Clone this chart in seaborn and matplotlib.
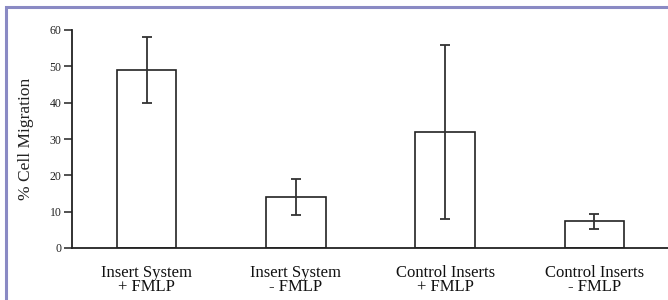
import matplotlib
matplotlib.use('Agg')
import matplotlib.pyplot as plt
import seaborn as sns
from matplotlib.patches import Rectangle

# Data
groups = ['Insert System\n+ FMLP', 'Insert System\n- FMLP',
          'Control Inserts\n+ FMLP', 'Control Inserts\n- FMLP']
migration = [49.0, 14.0, 32.0, 7.3]
migration_err = [9.0, 5.0, 24.0, 2.0]
y_ticks = [0, 10, 20, 30, 40, 50, 60]

sns.set_theme(style='white')
plt.rcParams['font.family'] = ['Liberation Serif', 'DejaVu Serif']

fig = plt.figure(figsize=(6.68, 3.0), dpi=100)
ax = fig.add_axes([72 / 668, 52 / 300, 600 / 668, 218 / 300])

sns.barplot(x=groups, y=migration, ax=ax, width=0.4, color='white',
            edgecolor='#222222', linewidth=1.2, errorbar=None)
ax.errorbar(range(len(groups)), migration, yerr=migration_err, fmt='none',
            ecolor='#333333', elinewidth=1.3, capsize=3.5, capthick=1.3, zorder=5)

ax.set_xlim(-0.5, 3.52)
ax.set_ylim(0, 60)
ax.set_yticks(y_ticks)
ax.set_yticklabels([str(t) for t in y_ticks], fontsize=8.5, color='#222222')
ax.tick_params(axis='y', direction='out', length=5.5, width=1.1, color='#222222', pad=2, left=True)
ax.tick_params(axis='x', length=0, labelsize=12, labelcolor='#111111', pad=12)
for lab in ax.get_xticklabels():
    lab.set_linespacing(0.85)

ax.set_ylabel('% Cell Migration', fontsize=12.5, color='#222222', labelpad=11)
sns.despine(ax=ax)
for s in ['left', 'bottom']:
    ax.spines[s].set_color('#222222')
    ax.spines[s].set_linewidth(1.3)

# bluish frame around the figure (top and left edges visible)
fig.patches.append(Rectangle((6 / 668, -0.1), 1.2, 1.1 - 7.5 / 300, transform=fig.transFigure,
                             fill=False, edgecolor='#8a8ac4', linewidth=2.2))

fig.savefig('out.png', dpi=100)
